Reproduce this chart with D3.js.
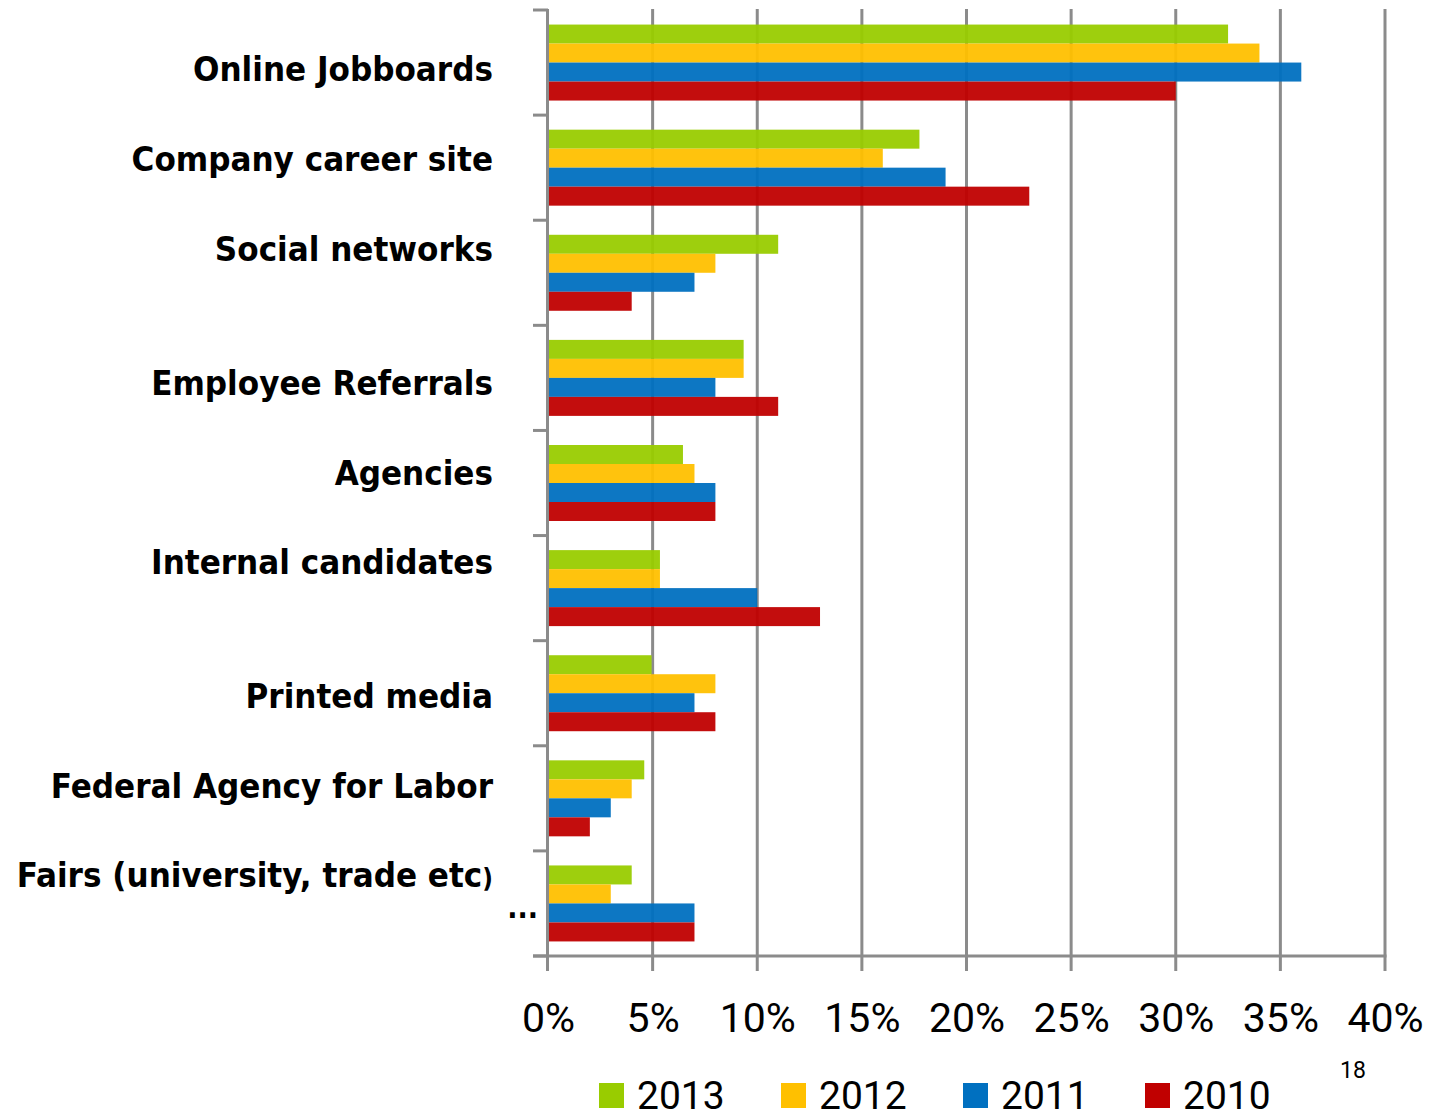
<!DOCTYPE html>
<html>
<head>
<meta charset="utf-8">
<script src="https://cdn.jsdelivr.net/npm/d3@7"></script>
<style>
  html, body { margin: 0; padding: 0; background: #fff; }
  svg { display: block; }
</style>
</head>
<body>
<svg id="chart" width="1437" height="1119"></svg>
<script>
// Recruiting channels by share of hires, 2010–2013
const categories = [
  "Online Jobboards",
  "Company career site",
  "Social networks",
  "Employee Referrals",
  "Agencies",
  "Internal candidates",
  "Printed media",
  "Federal Agency for Labor",
  "Fairs (university, trade etc)"
];
const years = ["2013", "2012", "2011", "2010"];
const values2013 = [32.5, 17.75, 11, 9.35, 6.45, 5.35, 4.95, 4.6, 4];
const values2012 = [34, 16, 8, 9.35, 7, 5.35, 8, 4, 3];
const values2011 = [36, 19, 7, 8, 8, 10, 7, 3, 7];
const values2010 = [30, 23, 4, 11, 8, 13, 8, 2, 7];
const xTickValues = [0, 5, 10, 15, 20, 25, 30, 35, 40];
const yearColors = ["#99CC00", "#FFC000", "#0070C0", "#C00000"];
const pageNumber = "18";

const seriesValues = [values2013, values2012, values2011, values2010];

// Layout
const plotLeft = 548, plotRight = 1385, plotTop = 10, plotBottom = 956;
const gridColor = "#8b8b8b";
const labelFont = "'DejaVu Sans Condensed', 'DejaVu Sans', sans-serif";
const numFont = "Roboto, 'Liberation Sans', sans-serif";
// vertical nudges of each category label relative to its band centre
const labelNudge = [6, -9, -24, 5, -10, -26, 3, -12, -28];

const svg = d3.select("#chart");

const x = d3.scaleLinear().domain([0, 40]).range([plotLeft, plotRight]);
const y = d3.scaleBand()
  .domain(categories)
  .range([plotTop, plotBottom])
  .paddingInner(0.277)
  .paddingOuter(0.1385);
const yInner = d3.scaleBand().domain(years).range([0, y.bandwidth()]);
const step = y.step();

// vertical gridlines (extend a little below the axis as tick marks)
svg.append("g")
  .selectAll("line")
  .data(xTickValues.slice(1))
  .join("line")
  .attr("x1", d => x(d)).attr("x2", d => x(d))
  .attr("y1", plotTop - 1).attr("y2", plotBottom + 15)
  .attr("stroke", gridColor).attr("stroke-width", 3);

// bars
const rows = categories.map((c, i) => ({ category: c, values: years.map((yr, j) => ({ year: yr, value: seriesValues[j][i], color: yearColors[j] })) }));
const groups = svg.append("g")
  .selectAll("g")
  .data(rows)
  .join("g")
  .attr("transform", d => `translate(0,${y(d.category)})`);
groups.selectAll("rect")
  .data(d => d.values)
  .join("rect")
  .attr("x", x(0))
  .attr("y", d => yInner(d.year))
  .attr("width", d => x(d.value) - x(0))
  .attr("height", yInner.bandwidth())
  .attr("fill", d => d.color)
  .attr("fill-opacity", 0.95);

// category axis with boundary ticks
svg.append("line")
  .attr("x1", plotLeft - 0.5).attr("x2", plotLeft - 0.5)
  .attr("y1", plotTop - 1).attr("y2", plotBottom + 15)
  .attr("stroke", gridColor).attr("stroke-width", 3);
svg.append("g")
  .selectAll("line")
  .data(d3.range(categories.length + 1))
  .join("line")
  .attr("x1", plotLeft - 15).attr("x2", plotLeft)
  .attr("y1", i => plotTop + i * step).attr("y2", i => plotTop + i * step)
  .attr("stroke", gridColor).attr("stroke-width", 3);

// value axis baseline
svg.append("line")
  .attr("x1", plotLeft - 15).attr("x2", plotRight + 1.5)
  .attr("y1", plotBottom).attr("y2", plotBottom)
  .attr("stroke", gridColor).attr("stroke-width", 3);

// value tick labels
const xAxis = d3.axisBottom(x).tickValues(xTickValues).tickFormat(d => d + "%").tickSize(0).tickPadding(0);
const xg = svg.append("g").attr("transform", `translate(0,${plotBottom})`).call(xAxis);
xg.select(".domain").remove();
xg.selectAll("text")
  .attr("dy", null)
  .attr("y", 76)
  .attr("fill", "#000")
  .style("font-family", numFont)
  .style("font-size", "41px");

// category labels
const labels = svg.append("g")
  .selectAll("text")
  .data(categories)
  .join("text")
  .attr("x", 493)
  .attr("y", (d, i) => y(d) + y.bandwidth() / 2 + labelNudge[i] + 12)
  .attr("text-anchor", "end")
  .style("font-family", labelFont)
  .style("font-weight", "bold")
  .style("font-size", "34.6px")
  .attr("fill", "#000");
labels.each(function (d) {
  const t = d3.select(this);
  if (d.endsWith(")")) {
    t.append("tspan").text(d.slice(0, -1));
    t.append("tspan").style("font-size", "26px").text(")");
  } else {
    t.text(d);
  }
});

// overflow marker under the last label
svg.append("text")
  .attr("x", 538)
  .attr("y", y(categories[categories.length - 1]) + y.bandwidth() / 2 + 15)
  .attr("text-anchor", "end")
  .style("font-family", labelFont)
  .style("font-weight", "bold")
  .style("font-size", "30px")
  .text("...");

// legend
const legend = svg.append("g")
  .selectAll("g")
  .data(years)
  .join("g")
  .attr("transform", (d, i) => `translate(${599 + i * 182},0)`);
legend.append("rect")
  .attr("x", 0).attr("y", 1083)
  .attr("width", 25).attr("height", 25)
  .attr("fill", (d, i) => yearColors[i]);
legend.append("text")
  .attr("x", 38).attr("y", 1109)
  .style("font-family", numFont)
  .style("font-size", "39px")
  .attr("fill", "#000")
  .text(d => d);

// page number
svg.append("text")
  .attr("x", 1340).attr("y", 1078)
  .style("font-family", numFont)
  .style("font-size", "23px")
  .attr("fill", "#000")
  .text(pageNumber);
</script>
</body>
</html>
